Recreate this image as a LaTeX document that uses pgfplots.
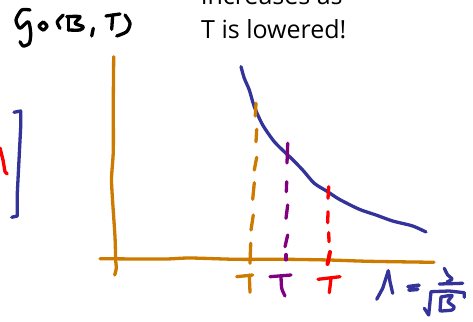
\documentclass[border=0pt]{standalone}
\usepackage{pgfplots}
\pgfplotsset{compat=1.18}
\usepackage{fontspec}
\setmainfont{Open Sans}
\definecolor{oran}{HTML}{CC7A00}
\definecolor{blu}{HTML}{333399}
\definecolor{purp}{HTML}{800080}
\definecolor{redd}{HTML}{FF0000}
\pgfplotsset{
  sk/.style={no markers,line cap=round,line join=round,line width=3.3pt,smooth,tension=0.45},
  st/.style={no markers,line cap=round,line join=round,line width=3.3pt},
}
\begin{document}
\begin{tikzpicture}
\useasboundingbox (0,0) rectangle (473pt,321pt);
\clip (0,0) rectangle (473pt,321pt);
\begin{axis}[at={(0,0)},anchor=south west,scale only axis,width=473pt,height=321pt,
  xmin=0,xmax=473,ymin=0,ymax=321,y dir=reverse,axis lines=none,clip=false]
% axes
\addplot[sk,oran] coordinates {(113.7,56.7)(113.3,100)(113.3,150)(112,170)(111.5,182)(113,207)(115,237)(115.7,260)(116.3,268)(114.7,275)};
\addplot[sk,oran] coordinates {(100,258.7)(140,259)(167,259)(190,258)(236,259.3)(286,259.3)(329,260)(369,261.3)(434,262.3)};
% curve
\addplot[sk,blu] coordinates {(241,66.7)(244.3,78.3)(249.3,90)(254.3,106.7)(262.7,125)(274.3,141.7)(286,153.3)(291,158)(302.7,170)(314.3,183.3)(327.7,191.7)(339.3,199.3)(359.3,209.3)(376,215)(392.7,221)(412.7,226)(426,232)};
% orange dashes
\addplot[st,oran] coordinates {(256,103.3)(255.3,116)};
\addplot[st,oran] coordinates {(256.7,129.3)(256,141.7)};
\addplot[st,oran] coordinates {(256.7,157.3)(254.3,170)};
\addplot[st,oran] coordinates {(254.3,182.7)(252.7,199.3)};
\addplot[st,oran] coordinates {(253.3,215)(251,230)};
\addplot[st,oran] coordinates {(250.7,243.3)(250,263.3)};
% purple dashes
\addplot[st,purp] coordinates {(287.7,143.3)(287,163)};
\addplot[st,purp] coordinates {(286.7,181.7)(286.3,191.7)};
\addplot[st,purp] coordinates {(287.7,205)(286,218.3)};
\addplot[st,purp] coordinates {(287.7,235)(285,246.7)};
\addplot[st,purp,line width=4.2pt] coordinates {(286,255)(286,259.5)};
% red dashes
\addplot[st,redd] coordinates {(328.7,186.7)(328,198.3)};
\addplot[st,redd] coordinates {(328,211.7)(327.7,222.7)};
\addplot[st,redd] coordinates {(328.7,232.7)(329,241.7)};
\addplot[st,redd,line width=4pt] coordinates {(330,252)(327.5,264)};
% T labels
\addplot[st,oran] coordinates {(236.7,276.7)(252.7,275)};
\addplot[st,oran] coordinates {(249.3,275)(250,292.3)};
\addplot[sk,purp] coordinates {(270,276.7)(291,275)};
\addplot[sk,purp] coordinates {(281,276)(281.7,288.3)(285,296)};
\addplot[st,redd] coordinates {(318,279.3)(340,276.7)};
\addplot[st,redd] coordinates {(331,278.3)(329.3,292.7)};
% lambda = 1/sqrt(B)
\addplot[st,blu] coordinates {(376.7,299.3)(382.7,288.3)(388.3,270.7)(390,281.7)(392.7,293.3)};
\addplot[st,blu,line width=3.8pt] coordinates {(408,286.7)(419,285.3)};
\addplot[st,blu,line width=3.8pt] coordinates {(409,290)(417.7,289.3)};
\addplot[sk,blu] coordinates {(444.3,268.3)(447.7,275)(452,279)(447,282)};
\addplot[st,blu] coordinates {(439.3,284)(462.7,283.3)};
\addplot[st,blu] coordinates {(424.3,308.3)(428.7,315)(431,291.7)(449.3,291)(464.3,292.7)(464.3,297.3)};
\addplot[st,blu] coordinates {(441,297)(440,311)};
\addplot[sk,blu] coordinates {(441,297)(452,295.5)(448,301.7)(454,306.7)(452,310)(441,311)};
% g0(B,T)
\addplot[sk,black] coordinates {(30,10)(21.7,10)(16,20)(20,28.3)(28.3,21.7)(30.7,33.3)(29.3,43.3)(23.3,46)(20,41.7)};
\addplot[sk,black] coordinates {(43.3,22)(47,26)(43.3,30)(39,26)(43.3,22)};
\addplot[sk,black] coordinates {(63.3,15)(57.3,21.7)(60,28.3)};
\addplot[st,black] coordinates {(68.3,16.7)(68.3,30)};
\addplot[sk,black] coordinates {(66.7,16.7)(80,16.7)(75,23.3)(83.3,26.7)(80,30)(68.3,30)};
\addplot[st,black] coordinates {(93.3,28.3)(91.7,36)};
\addplot[st,black] coordinates {(106,16)(120,14)};
\addplot[st,black] coordinates {(112.7,15)(111.7,29.3)};
\addplot[sk,black] coordinates {(125,15)(130,23.3)(126.7,31.7)(116.7,36)};
% bracket
\addplot[st,blu] coordinates {(14,112.3)(20.7,111)(20.7,126.7)(19,160)(17.3,193)(17.3,216)(11.7,217.3)};
\addplot[st,redd] coordinates {(0,148)(3,160)(5,171.7)(7.3,174)};
% text
\node[anchor=base west,inner sep=0pt,font=\fontsize{25}{30}\selectfont] at (axis cs:201,38) {T is lowered!};
\node[anchor=base west,inner sep=0pt,font=\fontsize{25}{30}\selectfont] at (axis cs:201,5) {increases as};
\end{axis}
\end{tikzpicture}
\end{document}
